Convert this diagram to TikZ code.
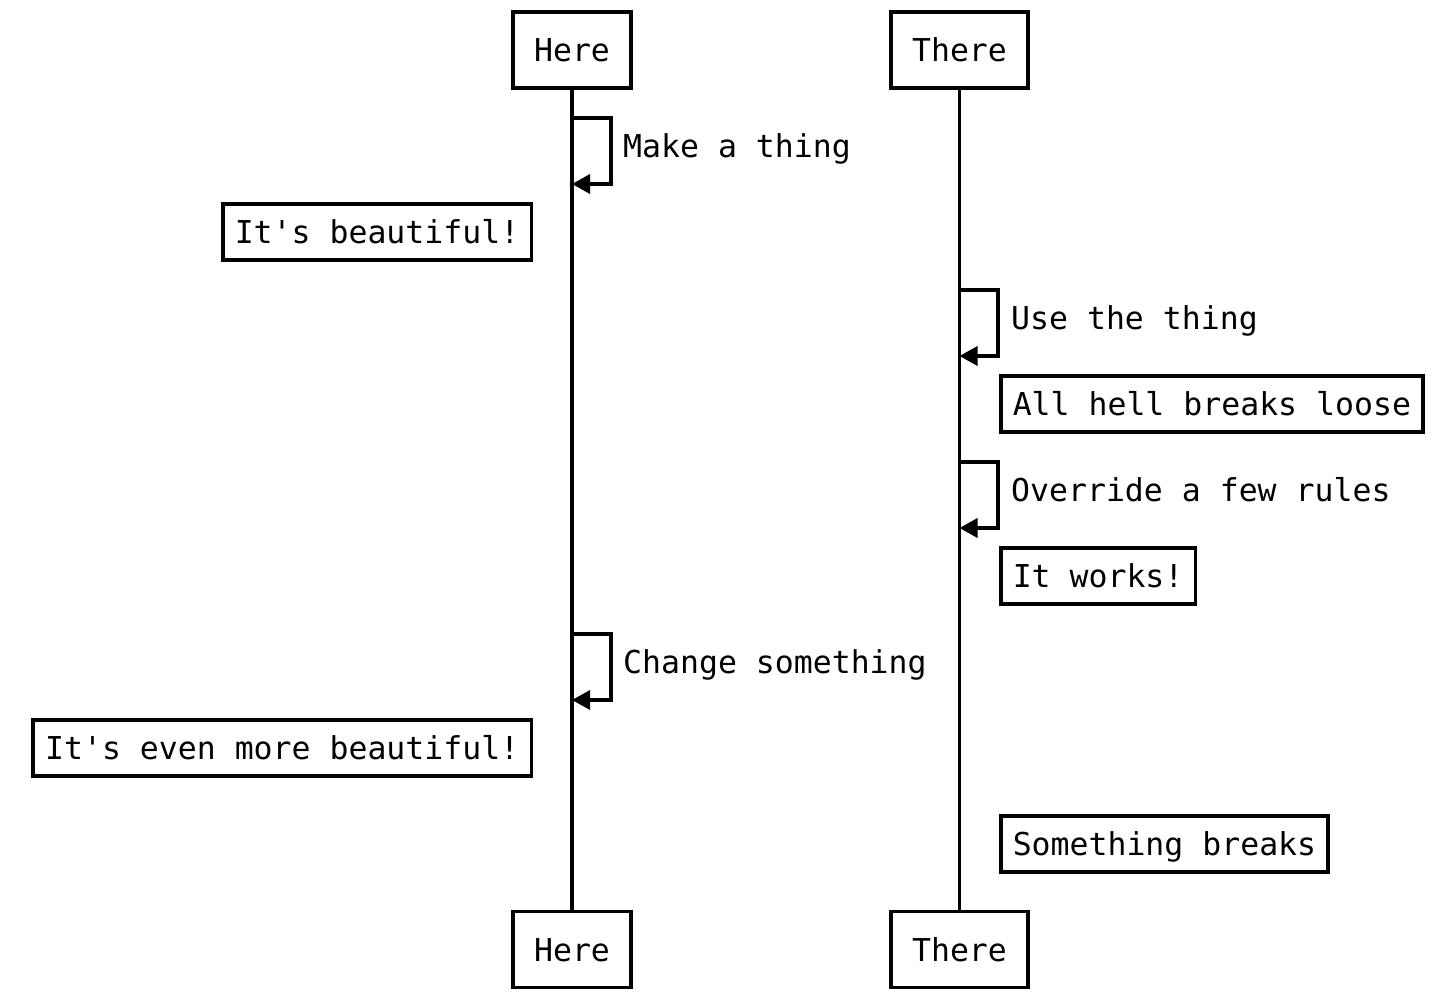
\documentclass[tikz,border=0pt]{standalone}
\usepackage{fontspec}
\newfontfamily\seqfont{DejaVu Sans Mono}
\usetikzlibrary{arrows.meta}
\begin{document}
\begin{tikzpicture}[x=1pt,y=-1pt,
  every node/.style={font=\seqfont\fontsize{31.5}{36}\selectfont, text height=23pt, text depth=0pt},
  actor/.style={draw, line width=3.5pt, minimum height=76pt, inner xsep=21pt, inner ysep=0pt},
  notebox/.style={draw, line width=3.5pt, minimum height=56pt, inner xsep=12pt, inner ysep=0pt},
  msglabel/.style={anchor=west, inner sep=0pt},
  life/.style={line width=3.5pt},
  selfmsg/.style={line width=3.5pt, -{Triangle[length=18pt,width=19pt]}}]
\useasboundingbox (0,0) rectangle (1436,1002);
% actors
\node[actor] (hereTop) at (572,50) {Here};
\node[actor] (thereTop) at (959.5,50) {There};
\node[actor] (hereBot) at (572,949.5) {Here};
\node[actor] (thereBot) at (959.5,949.5) {There};
% lifelines
\draw[life] (hereTop.south) -- (hereBot.north);
\draw[life] (thereTop.south) -- (thereBot.north);
% self messages
\coordinate (m1a) at (572,118); \coordinate (m1b) at (572,184);
\draw[selfmsg] (m1a) -- (611,118) -- (611,184) -- (m1b);
\node[msglabel] (l1) at (623,146) {Make a thing};

\coordinate (m2a) at (959.5,290); \coordinate (m2b) at (959.5,356);
\draw[selfmsg] (m2a) -- (998,290) -- (998,356) -- (m2b);
\node[msglabel] (l2) at (1011,318) {Use the thing};

\coordinate (m3a) at (959.5,462); \coordinate (m3b) at (959.5,528);
\draw[selfmsg] (m3a) -- (998,462) -- (998,528) -- (m3b);
\node[msglabel] (l3) at (1011,490) {Override a few rules};

\coordinate (m4a) at (572,634); \coordinate (m4b) at (572,700);
\draw[selfmsg] (m4a) -- (611,634) -- (611,700) -- (m4b);
\node[msglabel] (l4) at (623,662) {Change something};
% notes
\node[notebox, anchor=east] (n1) at (533,232) {It's beautiful!};
\node[notebox, anchor=west] (n2) at (999,404) {All hell breaks loose};
\node[notebox, anchor=west] (n3) at (999,576) {It works!};
\node[notebox, anchor=east] (n4) at (533,748) {It's even more beautiful!};
\node[notebox, anchor=west] (n5) at (999,844) {Something breaks};
\end{tikzpicture}
\end{document}
